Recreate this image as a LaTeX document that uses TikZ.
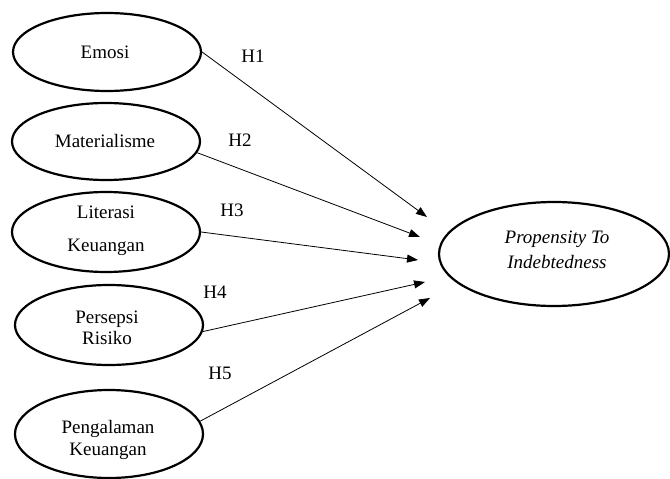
\documentclass[tikz,border=0pt]{standalone}
\usepackage{fontspec}
\setmainfont{Liberation Serif}
\usetikzlibrary{shapes.geometric,arrows.meta}
\begin{document}
\begin{tikzpicture}[x=1pt,y=-1pt,
  varbox/.style={draw,ellipse,line width=2.2pt,inner sep=0pt},
  vtext/.style={font=\fontsize{19}{21.5}\selectfont,align=center,inner sep=0pt},
  hyp/.style={-{Triangle[length=11pt,width=8pt]},line width=0.8pt},
  hlabel/.style={font=\fontsize{19}{21.5}\selectfont,inner sep=0pt}]
\useasboundingbox (0,0) rectangle (670,479);
\node[varbox,minimum width=188pt,minimum height=78pt] (emosi) at (107,52) {};
\node[vtext] (temosi) at (105,52) {Emosi};
\node[varbox,minimum width=188pt,minimum height=77pt] (mat) at (106,141.5) {};
\node[vtext] (tmat) at (105,141) {Materialisme};
\node[varbox,minimum width=188pt,minimum height=80pt] (lit) at (106,232) {};
\node[vtext] (tlit) at (106,231) {Literasi\\[12pt]Keuangan};
\node[varbox,minimum width=188pt,minimum height=80pt] (pers) at (109,325) {};
\node[vtext] (tpers) at (107,328) {Persepsi\\Risiko};
\node[varbox,minimum width=188pt,minimum height=88pt] (peng) at (109,434) {};
\node[vtext] (tpeng) at (108,440) {Pengalaman\\Keuangan};
\node[varbox,minimum width=230pt,minimum height=104pt] (pti) at (554,254) {};
\node[vtext,font=\fontsize{19}{21.5}\selectfont\itshape] (tpti) at (557,250) {Propensity To\\[3pt]Indebtedness};
\coordinate (t1) at (427,217);
\coordinate (t2) at (420,237);
\coordinate (t3) at (418,260);
\coordinate (t4) at (425,282);
\coordinate (t5) at (430,298);
\draw[hyp] (emosi.east) -- (t1);
\draw[hyp] (mat.-7) -- (t2);
\draw[hyp] (lit.east) -- (t3);
\draw[hyp] (pers.-4) -- (t4);
\draw[hyp] (peng.8) -- (t5);
\node[hlabel] (h1) at (253,56) {H1};
\node[hlabel] (h2) at (240,140) {H2};
\node[hlabel] (h3) at (232,210) {H3};
\node[hlabel] (h4) at (215,292) {H4};
\node[hlabel] (h5) at (220,373) {H5};
\end{tikzpicture}
\end{document}
